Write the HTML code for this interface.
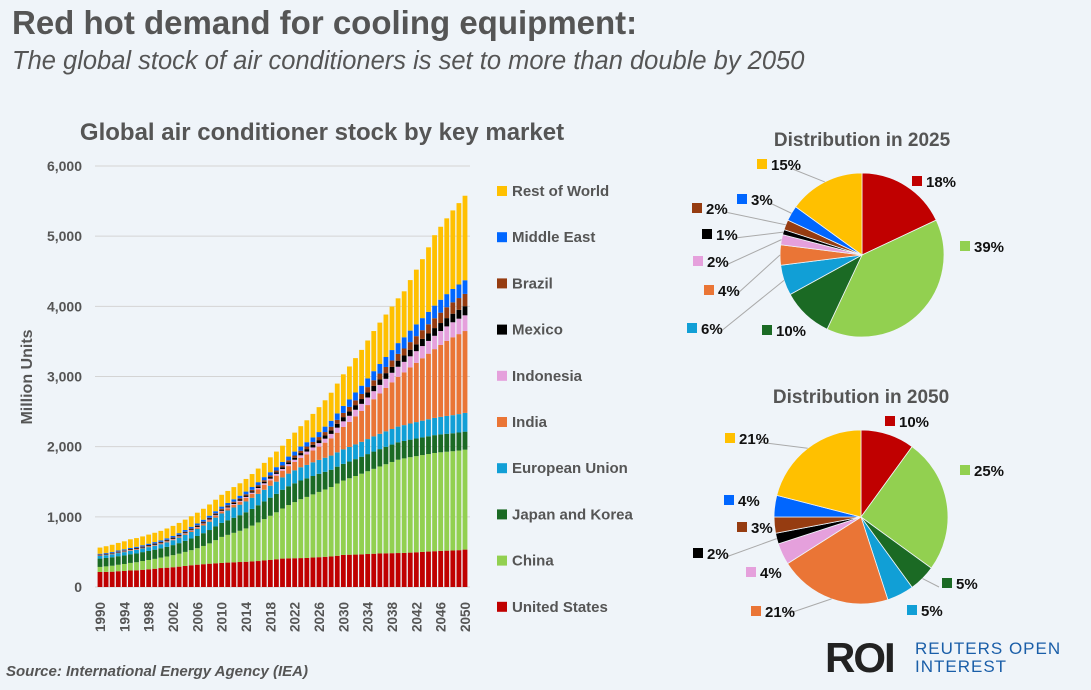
<!DOCTYPE html>
<html><head><meta charset="utf-8">
<style>
html,body{margin:0;padding:0;}
body{width:1091px;height:690px;background:#eff4f9;font-family:"Liberation Sans",sans-serif;position:relative;overflow:hidden;}
.t{position:absolute;white-space:nowrap;}
</style></head>
<body>
<div class="t" style="left:12px;top:4px;font-size:33px;font-weight:bold;color:#555;">Red hot demand for cooling equipment:</div>
<div class="t" style="left:12px;top:47px;font-size:25.5px;font-style:italic;color:#555;">The global stock of air conditioners is set to more than double by 2050</div>
<svg id="chart" width="1091" height="690" style="position:absolute;left:0;top:0"></svg>
<div class="t" style="left:6px;top:663px;font-size:15px;font-style:italic;font-weight:bold;color:#555;">Source: International Energy Agency (IEA)</div>
<div class="t" style="left:825px;top:634px;font-size:42px;font-weight:bold;color:#222;letter-spacing:-2px;">ROI</div>
<div class="t" style="left:915px;top:640px;font-size:17px;color:#1a5ea8;line-height:18px;letter-spacing:1px;">REUTERS OPEN<br>INTEREST</div>
<script>
const years=[];for(let y=1990;y<=2050;y++)years.push(y);
const seriesNames=["United States","China","Japan and Korea","European Union","India","Indonesia","Mexico","Brazil","Middle East","Rest of World"];
const colors=["#c00000","#92d050","#1b6a24","#119fd6","#ea7536","#e5a0dc","#000000","#963c11","#0066ff","#ffc000"];
const usVals=[214,216,218,225,228,235,238,245,252,260,270,275,282,290,300,310,318,325,332,338,343,348,352,356,360,365,370,378,385,395,405,408,410,412,414,420,425,430,435,445,457,460,462,465,470,474,478,480,482,484,486,490,495,500,505,510,515,518,520,525,533];
const chinaVals=[72,78,85,92,100,108,115,125,133,141,149,160,172,185,200,215,235,260,290,330,371,395,420,445,475,510,550,590,630,670,714,760,800,840,870,900,930,960,990,1030,1060,1090,1120,1150,1180,1210,1240,1270,1300,1330,1347,1360,1370,1380,1390,1400,1405,1410,1415,1420,1424];
const jkVals=[119,120,121,122,123,124,125,127,129,131,133,138,143,150,158,166,174,182,190,195,200,208,215,222,230,238,245,252,258,263,267,268,268,266,264,262,258,252,246,240,238,238,240,242,244,246,247,248,248,248,248,250,251,252,253,254,255,256,256,257,257];
const euVals=[38,40,42,44,46,48,50,52,54,56,58,64,70,78,86,94,102,110,118,126,134,140,146,150,154,158,162,166,170,173,176,180,184,188,192,195,198,200,202,204,206,208,210,212,214,216,218,220,222,224,226,230,234,238,242,246,250,254,258,262,267];
const indiaVals=[5,5,6,6,7,7,8,8,9,9,10,11,12,13,15,17,19,21,23,25,28,32,37,43,50,57,64,71,78,86,95,107,120,135,150,168,190,215,245,280,320,357,400,440,485,530,575,620,665,710,752,800,845,890,935,980,1025,1070,1110,1140,1167];
const indoVals=[3,3,3,3,4,4,4,4,5,5,5,5,6,6,7,7,8,8,9,9,10,11,12,13,15,17,19,21,23,25,25,28,32,36,40,44,50,57,64,72,80,87,94,101,108,115,122,129,136,143,150,158,166,174,182,190,198,206,214,220,224];
const mexVals=[8,8,8,9,9,9,10,10,10,11,11,11,12,12,12,13,13,14,14,15,15,16,17,18,19,20,21,22,23,24,25,27,29,32,35,38,42,46,50,55,60,63,66,69,72,75,78,81,84,87,90,94,98,102,106,110,114,118,122,126,130];
const brazilVals=[5,5,5,6,6,6,7,7,7,8,8,9,9,10,10,11,11,12,12,13,15,16,17,18,19,20,21,22,23,24,25,28,31,34,37,40,44,48,52,56,60,64,68,72,76,80,84,88,92,96,100,108,116,124,132,140,148,155,162,168,175];
const meVals=[10,11,12,13,14,15,16,17,18,19,20,21,22,23,24,25,26,27,28,29,30,32,34,36,38,40,42,44,46,48,50,53,56,59,62,65,71,78,85,92,100,106,112,118,124,130,136,142,148,154,160,164,168,172,176,180,184,187,190,193,195];
const rowVals=[88,95,102,108,114,124,124,126,130,133,136,140,143,146,148,150,153,156,160,164,168,171,174,177,180,185,194,203,212,222,232,250,270,290,312,335,355,375,400,425,450,470,490,510,540,572,590,605,620,638,655,720,780,840,920,1004,1040,1080,1120,1160,1204];
const yTicks=[0,1000,2000,3000,4000,5000,6000];
const pie2025=[18,39,10,6,4,2,1,2,3,15];
const pie2050=[10,25,5,5,21,4,2,3,4,21];

const NS="http://www.w3.org/2000/svg";
const svg=document.getElementById('chart');
function mk(tag,attrs,parent){const e=document.createElementNS(NS,tag);for(const k in attrs)e.setAttribute(k,attrs[k]);(parent||svg).appendChild(e);return e;}
const allSeries=[usVals,chinaVals,jkVals,euVals,indiaVals,indoVals,mexVals,brazilVals,meVals,rowVals];
const y0=587,yTop=166,yMax=6000;
const yS=v=>y0-(v/yMax)*(y0-yTop);
const x0=100,x1=465;
const xS=i=>x0+i*(x1-x0)/(years.length-1);
const bw=4.8;

const ct=mk('text',{x:322,y:140,'text-anchor':'middle','font-size':24,'font-weight':'bold',fill:'#555'});
ct.textContent='Global air conditioner stock by key market';



yTicks.forEach(t=>{
  const y=yS(t);
  const g=mk('line',{x1:95,x2:470,y1:y,y2:y,stroke:'#d4d4d4','stroke-width':1});
  
  
  const l=mk('text',{x:82,y:y+5,'text-anchor':'end','font-size':14,'font-weight':'bold',fill:'#555'});
  l.textContent=t.toLocaleString('en-US');
  
  
});
const yt=mk('text',{x:0,y:0,transform:'translate(32,377) rotate(-90)','text-anchor':'middle','font-size':16,'font-weight':'bold',fill:'#555'});
yt.textContent='Million Units';



years.forEach((yr,i)=>{
  let cum=0;
  allSeries.forEach((s,k)=>{
    const v=s[i];
    const r=mk('rect',{x:xS(i)-bw/2,y:yS(cum+v),width:bw,height:yS(cum)-yS(cum+v),fill:colors[k]});
    
    
    cum+=v;
  });
  if(i%4===0){
    const t=mk('text',{x:0,y:0,transform:`translate(${xS(i)+5},632) rotate(-90)`,'font-size':13.5,'font-weight':'bold',fill:'#555'});
    t.textContent=yr;
    
    
  }
});

for(let k=9;k>=0;k--){
  const row=9-k, y=191+row*46.2;
  const sq=mk('rect',{x:497,y:y-5,width:10,height:10,fill:colors[k]});
  
  
  const t=mk('text',{x:512,y:y+5,'font-size':15,'font-weight':'bold',fill:'#555'});
  t.textContent=seriesNames[k];
  
  
}

const lab2025=[[917,181],[965,246],[767,330],[692,328],[709,290],[698,261],[707,234],[697,208],[742,199],[762,164]];
const lead2025=[0,0,0,1,1,1,1,1,1,1];
const lab2050=[[890,421],[965,470],[947,583],[912,610],[756,611],[751,572],[698,553],[742,527],[729,500],[730,438]];
const lead2050=[0,0,1,0,1,0,1,0,0,1];
function pie(vals,cx,cy,r,title,labs,leads){
  const tt=mk('text',{x:cx,y:cy-r-27,'text-anchor':'middle','font-size':19,'font-weight':'bold',fill:'#555'});
  tt.textContent=title;
  
  
  const tot=vals.reduce((a,b)=>a+b,0);
  let a=0;
  vals.forEach((v,k)=>{
    const a1=a+v/tot*2*Math.PI;
    const p=(ang)=>[cx+r*Math.sin(ang),cy-r*Math.cos(ang)];
    const [sx,sy]=p(a),[ex,ey]=p(a1);
    const large=(a1-a)>Math.PI?1:0;
    const s=mk('path',{d:`M${cx},${cy}L${sx},${sy}A${r},${r} 0 ${large} 1 ${ex},${ey}Z`,fill:colors[k],stroke:'#eff4f9','stroke-width':0.8});
    
    
    const mid=(a+a1)/2;
    const [lx,ly]=labs[k];
    const [mx,my]=[cx+r*Math.sin(mid),cy-r*Math.cos(mid)];
    if(leads[k]){
      const tx = lx < cx ? lx+28 : lx-8;
      const ln=mk('line',{x1:mx,y1:my,x2:tx,y2:ly+4,stroke:'#aaa','stroke-width':1});
      
      
    }
    const sq=mk('rect',{x:lx-5,y:ly-5,width:10,height:10,fill:colors[k]});
    
    
    const t=mk('text',{x:lx+9,y:ly+6,'font-size':15,'font-weight':'bold',fill:'#111'});
    t.textContent=v+'%';
    
    
    a=a1;
  });
}
pie(pie2025,862,255,82,'Distribution in 2025',lab2025,lead2025);
pie(pie2050,861,517,87,'Distribution in 2050',lab2050,lead2050);
</script>
</body></html>
